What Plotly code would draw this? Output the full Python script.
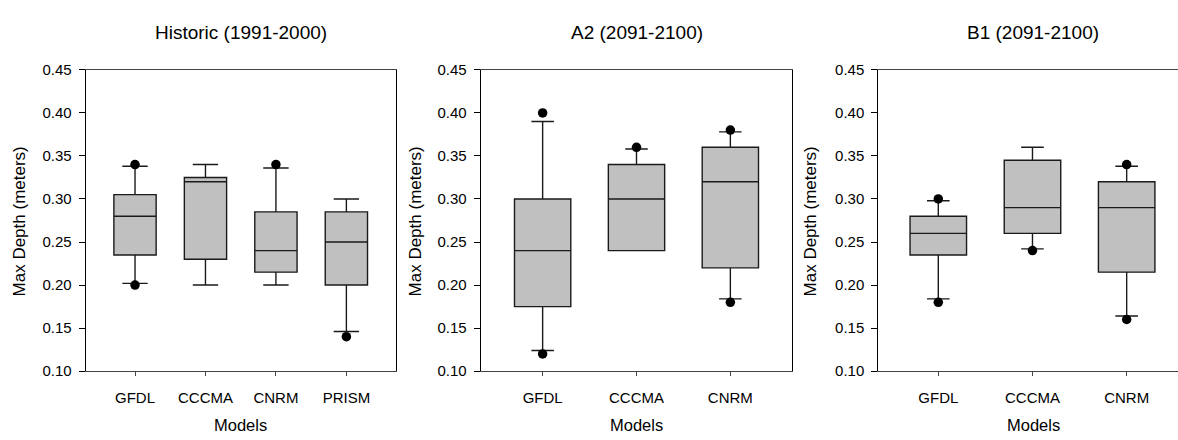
import plotly.graph_objects as go

W, H = 1178, 440

# ---- data ----
titles = ["Historic (1991-2000)", "A2 (2091-2100)", "B1 (2091-2100)"]

hist_models = ["GFDL", "CCCMA", "CNRM", "PRISM"]
hist_q1 = [0.235, 0.230, 0.215, 0.200]
hist_med = [0.280, 0.320, 0.240, 0.250]
hist_q3 = [0.305, 0.325, 0.285, 0.285]
hist_lo = [0.202, 0.200, 0.200, 0.146]
hist_hi = [0.338, 0.340, 0.336, 0.300]
hist_out_x = ["GFDL", "GFDL", "CNRM", "PRISM"]
hist_out_y = [0.340, 0.200, 0.340, 0.140]

a2_models = ["GFDL", "CCCMA", "CNRM"]
a2_q1 = [0.175, 0.240, 0.220]
a2_med = [0.240, 0.300, 0.320]
a2_q3 = [0.300, 0.340, 0.360]
a2_lo = [0.124, 0.240, 0.184]
a2_hi = [0.390, 0.358, 0.378]
a2_out_x = ["GFDL", "GFDL", "CCCMA", "CNRM", "CNRM"]
a2_out_y = [0.400, 0.120, 0.360, 0.380, 0.180]

b1_models = ["GFDL", "CCCMA", "CNRM"]
b1_q1 = [0.235, 0.260, 0.215]
b1_med = [0.260, 0.290, 0.290]
b1_q3 = [0.280, 0.345, 0.320]
b1_lo = [0.184, 0.242, 0.164]
b1_hi = [0.298, 0.360, 0.338]
b1_out_x = ["GFDL", "GFDL", "CCCMA", "CNRM", "CNRM"]
b1_out_y = [0.300, 0.180, 0.240, 0.340, 0.160]

y_ticks = [0.10, 0.15, 0.20, 0.25, 0.30, 0.35, 0.40, 0.45]
y_labels = ["0.10", "0.15", "0.20", "0.25", "0.30", "0.35", "0.40", "0.45"]

# ---- layout geometry (pixels) ----
panels_px = [(85.7, 395.7), (480.7, 792.3), (878.3, 1178.0)]
xranges = [[-0.70, 3.70], [-0.66, 2.66], [-0.637, 2.545]]
whisk = [0.6, 0.4, 0.4]
title_x = [240.7, 636.5, 1033.0]
ytitle_x = [19.0, 415.0, 810.0]
top_px, bot_px = 63.3, 376.7

FONT = "Liberation Sans, Arial, sans-serif"

fig = go.Figure()

datasets = [
    (hist_models, hist_q1, hist_med, hist_q3, hist_lo, hist_hi, hist_out_x, hist_out_y),
    (a2_models, a2_q1, a2_med, a2_q3, a2_lo, a2_hi, a2_out_x, a2_out_y),
    (b1_models, b1_q1, b1_med, b1_q3, b1_lo, b1_hi, b1_out_x, b1_out_y),
]

for i, (m, q1, med, q3, lo, hi, ox, oy) in enumerate(datasets):
    sfx = "" if i == 0 else str(i + 1)
    fig.add_trace(go.Box(
        x=m, q1=q1, median=med, q3=q3, lowerfence=lo, upperfence=hi,
        width=0.6, whiskerwidth=whisk[i], boxpoints=False,
        fillcolor="#c0c0c0", line=dict(color="#1a1a1a", width=1.4),
        xaxis="x" + sfx, yaxis="y" + sfx, showlegend=False, hoverinfo="skip",
    ))
    fig.add_trace(go.Scatter(
        x=ox, y=oy, mode="markers",
        marker=dict(color="black", size=9.5),
        xaxis="x" + sfx, yaxis="y" + sfx, showlegend=False, hoverinfo="skip",
    ))

layout = dict(
    width=W, height=H,
    margin=dict(l=0, r=0, t=0, b=0),
    paper_bgcolor="white", plot_bgcolor="white",
    font=dict(family=FONT, size=15, color="black"),
    showlegend=False,
)

annotations = []
for i in range(3):
    sfx = "" if i == 0 else str(i + 1)
    x0, x1 = panels_px[i]
    layout["xaxis" + sfx] = dict(
        domain=[x0 / W, x1 / W], range=xranges[i], type="category",
        categoryorder="array", categoryarray=datasets[i][0],
        showline=True, linecolor="#444", linewidth=1, mirror=True,
        ticks="outside", ticklen=4, tickcolor="#444",
        showgrid=False, zeroline=False, fixedrange=True,
        tickfont=dict(family=FONT, size=15), ticklabelstandoff=9,
        anchor="y" + sfx,
    )
    layout["yaxis" + sfx] = dict(
        domain=[1 - bot_px / H, 1 - top_px / H], range=[0.10, 0.45],
        tickvals=y_ticks, ticktext=y_labels,
        showline=True, linecolor="black", linewidth=1, mirror=(i < 2),
        ticks="outside", ticklen=6, tickcolor="black",
        showgrid=False, zeroline=False, fixedrange=True,
        tickfont=dict(family=FONT, size=15), ticklabelstandoff=4,
        anchor="x" + sfx,
    )
    annotations.append(dict(
        text=titles[i], x=title_x[i] / W, y=1 - 24 / H, xref="paper", yref="paper",
        xanchor="center", yanchor="middle", showarrow=False,
        font=dict(family=FONT, size=19, color="black"),
    ))
    annotations.append(dict(
        text="Models", x=title_x[i] / W, y=1 - 433 / H, xref="paper", yref="paper",
        xanchor="center", yanchor="middle", showarrow=False,
        font=dict(family=FONT, size=16.5, color="black"),
    ))
    annotations.append(dict(
        text="Max Depth (meters)", x=ytitle_x[i] / W, y=1 - 221 / H,
        xref="paper", yref="paper", textangle=-90,
        xanchor="center", yanchor="middle", showarrow=False,
        font=dict(family=FONT, size=17, color="black"),
    ))

layout["annotations"] = annotations
fig.update_layout(**layout)
fig.write_html("out.html")
